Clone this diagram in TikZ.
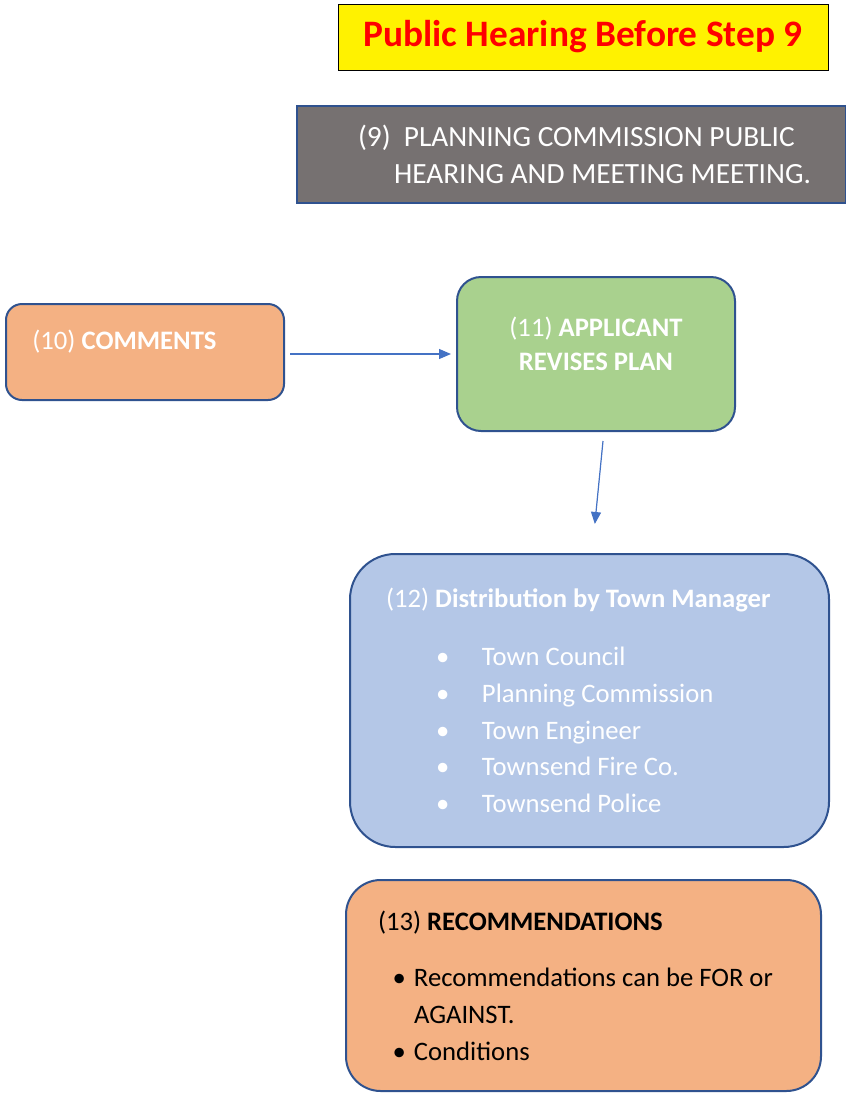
\documentclass[tikz,border=0pt]{standalone}
\usepackage{fontspec}
\setmainfont{Carlito}
\usetikzlibrary{arrows.meta,positioning,calc}

\definecolor{edgeblue}{HTML}{2F528F}
\definecolor{arrowblue}{HTML}{4472C4}
\definecolor{stepgray}{HTML}{767171}
\definecolor{stepgreen}{HTML}{A9D18E}
\definecolor{steporange}{HTML}{F4B183}
\definecolor{stepblue}{HTML}{B4C7E7}

\newcommand{\bodysize}{\fontsize{20}{27.5}\selectfont}
\newcommand{\itemdot}[1]{\makebox[#1][l]{\textbullet}}

\begin{document}
\begin{tikzpicture}[x=0.75pt,y=-0.75pt,>={Triangle[length=9pt,width=7.5pt]},
  box/.style={draw=edgeblue,line width=1.5pt,rounded corners=#1,inner sep=0pt},
  box/.default=12pt,
  flow/.style={->,draw=arrowblue,fill=arrowblue,line width=0.9pt}]
  \useasboundingbox (0,0) rectangle (846,1093);

  \node[draw=black,fill=yellow,minimum width=367.5pt,minimum height=49.5pt,
    font=\fontsize{28}{32}\selectfont\bfseries,text=red] (head) at (583,37) {Public Hearing Before Step 9};

  \node[box=0pt,fill=stepgray,minimum width=411.75pt,minimum height=72.75pt,text width=320.25pt,
    inner xsep=45.75pt,align=flush left,text=white,font=\fontsize{22}{27.75}\selectfont] (hearing) at (571.5,154.5)
    {\mbox{(9)\ \ PLANNING COMMISSION PUBLIC}\\\mbox{\hspace*{27pt}HEARING AND MEETING MEETING.}};

  \node[box=12pt,fill=steporange,minimum width=208.5pt,minimum height=72pt] (comments) at (145,352) {};
  \node[font=\bodysize,text=white,anchor=west] (commentstxt) at ([xshift=17pt,yshift=7.5pt]comments.west)
    {(10) \textbf{COMMENTS}};

  \node[box=18pt,fill=stepgreen,minimum width=208.5pt,minimum height=115.5pt] (revise) at (596,354) {};
  \node[font=\bodysize,text=white,align=center] (revisetxt) at ([yshift=8pt]revise.center)
    {(11) \textbf{APPLICANT}\\[-2pt]\textbf{REVISES PLAN}};

  \node[box=34pt,fill=stepblue,minimum width=359.25pt,minimum height=219.75pt,text width=305.25pt,
    inner xsep=27pt,align=flush left,text=white,font=\bodysize] (distrib) at (589.5,700.5)
    {(12) \textbf{Distribution by Town Manager}\\[16pt]
     \hspace*{37.5pt}\itemdot{34.5pt}Town Council\\
     \hspace*{37.5pt}\itemdot{34.5pt}Planning Commission\\
     \hspace*{37.5pt}\itemdot{34.5pt}Town Engineer\\
     \hspace*{37.5pt}\itemdot{34.5pt}Townsend Fire Co.\\
     \hspace*{37.5pt}\itemdot{34.5pt}Townsend Police};

  \node[box=26pt,fill=steporange,minimum width=356.25pt,minimum height=158.25pt,text width=308.25pt,
    inner xsep=24pt,align=flush left,font=\bodysize] (recs) at (583.5,985.5)
    {(13) \textbf{RECOMMENDATIONS}\\[15pt]
     \hspace*{11pt}\itemdot{16pt}Recommendations can be FOR or\\
     \hspace*{27pt}AGAINST.\\
     \hspace*{11pt}\itemdot{16pt}Conditions};

  \draw[flow] ([xshift=3.75pt]revise.west -| comments.east) -- ([xshift=-3.75pt]revise.west);
  \draw[flow] ([xshift=5.25pt,yshift=-6.75pt]revise.south) -- ([xshift=4pt,yshift=21.75pt]distrib.north);
\end{tikzpicture}
\end{document}
